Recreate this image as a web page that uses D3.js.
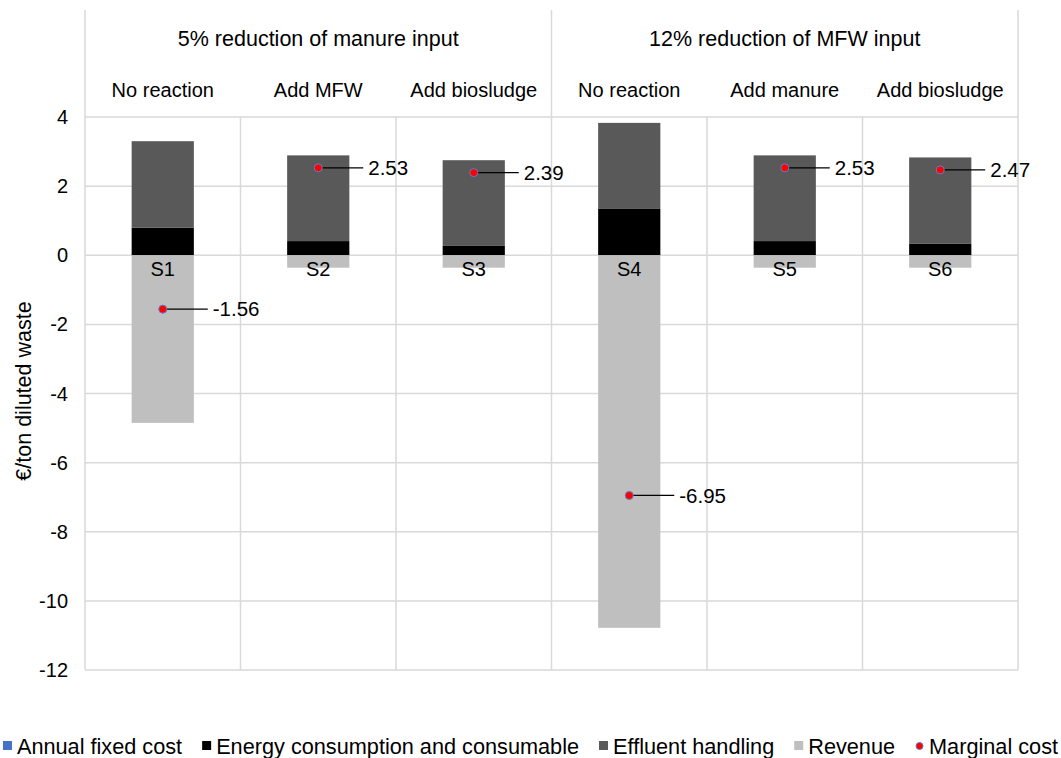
<!DOCTYPE html>
<meta charset="utf-8">
<script src="https://cdn.jsdelivr.net/npm/d3@7"></script>
<style>
  body { margin: 0; background: #fff; }
  text { font-family: "Liberation Sans", Arial, sans-serif; fill: #000; }
</style>
<div id="chart"></div>
<script>
    // data
    const groups = ["5% reduction of manure input", "12% reduction of MFW input"];
    const reactions = ["No reaction", "Add MFW", "Add biosludge", "No reaction", "Add manure", "Add biosludge"];
    const scenarios = ["S1", "S2", "S3", "S4", "S5", "S6"];
    const annualFixed = [0, 0, 0, 0, 0, 0];
    const energy = [0.80, 0.41, 0.27, 1.34, 0.41, 0.34];
    const effluent = [2.50, 2.48, 2.48, 2.49, 2.48, 2.49];
    const revenue = [-4.85, -0.36, -0.36, -10.78, -0.36, -0.36];
    const marginal = [-1.56, 2.53, 2.39, -6.95, 2.53, 2.47];
    const yTicks = [4, 2, 0, -2, -4, -6, -8, -10, -12];

    const W = 1061, H = 758;
    const plot = {left: 85, right: 1018, top: 117, bottom: 670, headTop: 10};
    const fs = 20;

    const svg = d3.select("#chart").append("svg")
        .attr("width", W)
        .attr("height", H);

    const x = d3.scaleBand()
        .domain(scenarios)
        .range([plot.left, plot.right])
        .padding(0);

    const xg = d3.scaleBand()
        .domain(groups)
        .range([plot.left, plot.right]);

    const y = d3.scaleLinear()
        .domain([-12, 4])
        .range([plot.bottom, plot.top]);

    const barW = x.bandwidth() * 0.4;
    const grid = "#d9d9d9";

    // horizontal gridlines
    svg.append("g").selectAll("line")
        .data(yTicks)
        .join("line")
        .attr("x1", plot.left).attr("x2", plot.right)
        .attr("y1", d => y(d)).attr("y2", d => y(d))
        .attr("stroke", grid).attr("stroke-width", 1.5);

    // vertical category dividers inside the plot
    const bounds = scenarios.map(s => x(s)).concat([plot.right]);
    svg.append("g").selectAll("line")
        .data(bounds)
        .join("line")
        .attr("x1", d => d).attr("x2", d => d)
        .attr("y1", plot.top).attr("y2", plot.bottom)
        .attr("stroke", grid).attr("stroke-width", 1.5);

    // group dividers in header
    const gBounds = groups.map(g => xg(g)).concat([plot.right]);
    svg.append("g").selectAll("line")
        .data(gBounds)
        .join("line")
        .attr("x1", d => d).attr("x2", d => d)
        .attr("y1", plot.headTop).attr("y2", plot.top)
        .attr("stroke", grid).attr("stroke-width", 1.5);

    // y tick labels
    svg.append("g").selectAll("text")
        .data(yTicks)
        .join("text")
        .attr("x", 68)
        .attr("y", d => y(d))
        .attr("dy", "0.35em")
        .attr("text-anchor", "end")
        .style("font-size", fs + "px")
        .text(d => d);

    // y axis title
    svg.append("text")
        .attr("transform", "translate(23,391) rotate(-90)")
        .attr("text-anchor", "middle")
        .attr("dy", "0.35em")
        .style("font-size", "21.5px")
        .text("€/ton diluted waste");

    // header labels
    svg.append("g").selectAll("text")
        .data(groups)
        .join("text")
        .attr("x", d => xg(d) + xg.bandwidth() / 2)
        .attr("y", 38)
        .attr("dy", "0.35em")
        .attr("text-anchor", "middle")
        .style("font-size", "21.5px")
        .text(d => d);

    svg.append("g").selectAll("text")
        .data(reactions)
        .join("text")
        .attr("x", (d, i) => x(scenarios[i]) + x.bandwidth() / 2)
        .attr("y", 90)
        .attr("dy", "0.35em")
        .attr("text-anchor", "middle")
        .style("font-size", fs + "px")
        .text(d => d);

    // stacked bars
    const rows = scenarios.map((s, i) => ({
        s: s, fixed: annualFixed[i], energy: energy[i], effluent: effluent[i], revenue: revenue[i]
    }));
    const keys = ["fixed", "energy", "effluent", "revenue"];
    const colors = {fixed: "#4472c4", energy: "#000000", effluent: "#595959", revenue: "#bfbfbf"};
    const series = d3.stack().keys(keys).offset(d3.stackOffsetDiverging)(rows);

    svg.append("g").selectAll("g")
        .data(series)
        .join("g")
        .attr("fill", d => colors[d.key])
        .selectAll("rect")
        .data(d => d)
        .join("rect")
        .attr("x", d => x(d.data.s) + (x.bandwidth() - barW) / 2)
        .attr("width", barW)
        .attr("y", d => y(d[1]))
        .attr("height", d => Math.abs(y(d[0]) - y(d[1])));

    // scenario labels
    svg.append("g").selectAll("text")
        .data(scenarios)
        .join("text")
        .attr("x", d => x(d) + x.bandwidth() / 2)
        .attr("y", y(0) + 14)
        .attr("dy", "0.35em")
        .attr("text-anchor", "middle")
        .style("font-size", fs + "px")
        .text(d => d);

    // marginal cost markers with labels
    const mk = svg.append("g").selectAll("g")
        .data(marginal)
        .join("g")
        .attr("transform", (d, i) => `translate(${x(scenarios[i]) + x.bandwidth() / 2},${y(d)})`);
    mk.append("line")
        .attr("x1", 0).attr("x2", 45)
        .attr("stroke", "#000").attr("stroke-width", 1.3);
    mk.append("circle")
        .attr("r", 4)
        .attr("fill", "#ff0000")
        .attr("stroke", "#5b7fc7")
        .attr("stroke-width", 1);
    mk.append("text")
        .attr("x", 50)
        .attr("dy", "0.35em")
        .style("font-size", "20.5px")
        .text(d => d.toFixed(2));

    // legend
    const legendItems = [
        {label: "Annual fixed cost", color: colors.fixed, type: "rect"},
        {label: "Energy consumption and consumable", color: colors.energy, type: "rect"},
        {label: "Effluent handling", color: colors.effluent, type: "rect"},
        {label: "Revenue", color: colors.revenue, type: "rect"},
        {label: "Marginal cost", color: "#ff0000", type: "circle"}
    ];
    const lg = svg.append("g");
    let cx = 0;
    const ly = 746;
    legendItems.forEach(it => {
        const item = lg.append("g").attr("transform", `translate(${cx},0)`);
        if (it.type === "rect") {
            item.append("rect")
                .attr("x", 0).attr("y", ly - 5)
                .attr("width", 9).attr("height", 9)
                .attr("fill", it.color);
        } else {
            item.append("circle")
                .attr("cx", 4.5).attr("cy", ly)
                .attr("r", 3.5)
                .attr("fill", it.color)
                .attr("stroke", "#5b7fc7");
        }
        const t = item.append("text")
            .attr("x", 14).attr("y", ly)
            .attr("dy", "0.35em")
            .style("font-size", "21.7px")
            .text(it.label);
        cx += 14 + t.node().getComputedTextLength() + 20;
    });
    const lw = cx - 20;
    lg.attr("transform", `translate(${(W - lw) / 2},0)`);
</script>
